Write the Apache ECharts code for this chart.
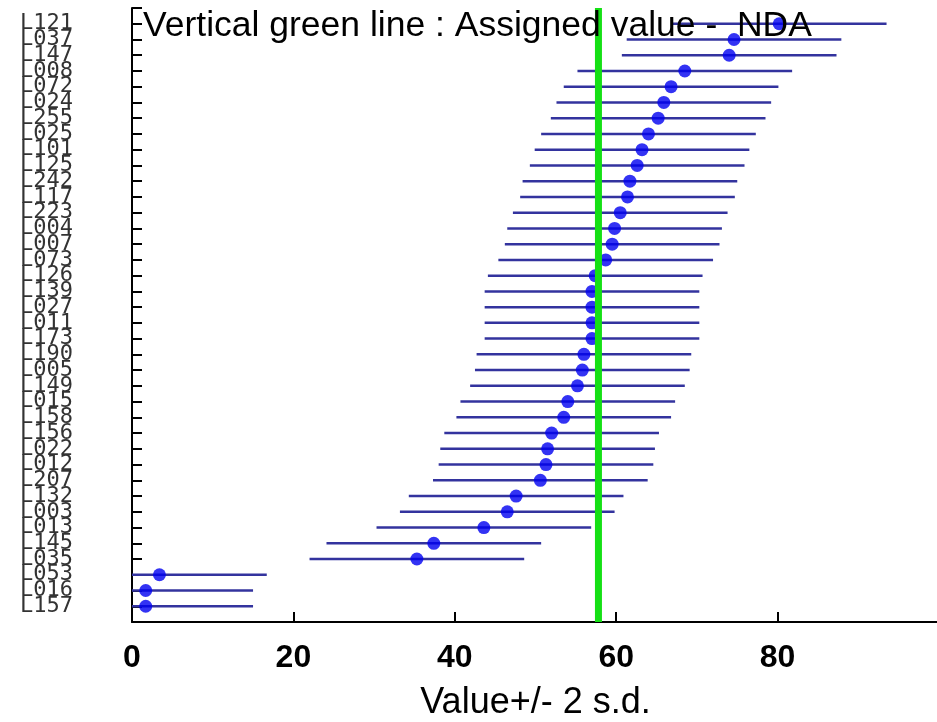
<!DOCTYPE html>
<html>
<head>
<meta charset="utf-8">
<script src="https://cdn.jsdelivr.net/npm/echarts@6/dist/echarts.min.js"></script>
<style>
html,body{margin:0;padding:0;background:#fff;}
#chart{width:937px;height:722px;}
</style>
</head>
<body>
<div id="chart"></div>
<script>
// Labs, top to bottom as shown
const labels = ['L121','L037','L147','L008','L072','L024','L255','L025','L101','L125',
  'L242','L117','L223','L004','L007','L073','L126','L139','L027','L011',
  'L173','L190','L005','L149','L015','L158','L156','L022','L012','L207',
  'L132','L003','L013','L145','L035','L053','L016','L157'];
// Reported values, same order
const values = [80.2,74.6,74.0,68.5,66.8,65.9,65.2,64.0,63.2,62.6,
  61.7,61.4,60.5,59.8,59.5,58.7,57.4,57.0,57.0,57.0,
  57.0,56.0,55.8,55.2,54.0,53.5,52.0,51.5,51.3,50.6,
  47.6,46.5,43.6,37.4,35.3,3.4,1.7,1.7];
// Half-width of the bars (2 s.d.)
const twoSd = 13.3;
// Assigned value (vertical green line)
const assigned = 57.8;
const xTicks = [0,20,40,60,80];
const titleText = 'Vertical green line : Assigned value -  NDA';
const xName = 'Value+/- 2 s.d.';

const n = labels.length;
const rowY = labels.map((_, i) => n - i);
const labelByY = {};
labels.forEach((l, i) => { labelByY[rowY[i]] = l; });

const barData = values.map((v, i) => [v - twoSd, v + twoSd, rowY[i]]);
const pointData = values.map((v, i) => [v, rowY[i]]);

const chart = echarts.init(document.getElementById('chart'));
chart.setOption({
  animation: false,
  backgroundColor: '#fff',
  title: {
    text: titleText,
    left: 138, top: 3,
    textStyle: {fontFamily: 'Liberation Sans', fontSize: 35.5, fontWeight: 'normal', color: '#000'}
  },
  grid: {left: 132, top: 8, width: 807, height: 614, containLabel: false, outerBoundsMode: 'none'},
  xAxis: {
    type: 'value', min: 0, max: 100, interval: 20,
    axisLine: {show: true, lineStyle: {color: '#000', width: 2}},
    axisTick: {show: true, inside: true, length: 10, customValues: xTicks, lineStyle: {color: '#000', width: 2}},
    splitLine: {show: false},
    axisLabel: {
      margin: 20, fontFamily: 'Liberation Sans', fontSize: 32, fontWeight: 'bold', color: '#000',
      customValues: xTicks,
      formatter: v => String(v)
    },
    name: xName, nameLocation: 'middle', nameGap: 63,
    nameTextStyle: {fontFamily: 'Liberation Sans', fontSize: 36, color: '#000'}
  },
  yAxis: {
    type: 'value', min: 0, max: n + 1, interval: 1,
    axisLine: {show: true, lineStyle: {color: '#000', width: 2}},
    axisTick: {show: true, inside: true, length: 10, lineStyle: {color: '#000', width: 2}},
    splitLine: {show: false},
    axisLabel: {
      margin: 59, fontFamily: 'DejaVu Sans Mono', fontSize: 22, color: '#333',
      padding: [8, 0, 0, 0],
      formatter: v => labelByY[v] || ''
    }
  },
  series: [
    {
      type: 'custom',
      clip: true,
      data: barData,
      renderItem: function (params, api) {
        const a = api.coord([api.value(0), api.value(2)]);
        const b = api.coord([api.value(1), api.value(2)]);
        const cs = params.coordSys;
        const x1 = Math.max(a[0], cs.x), x2 = Math.min(b[0], cs.x + cs.width);
        return {type: 'line', shape: {x1: x1, y1: a[1], x2: x2, y2: b[1]},
          style: {stroke: '#33339e', lineWidth: 2.5}};
      },
      z: 2
    },
    {
      type: 'scatter',
      data: pointData,
      symbol: 'circle', symbolSize: 13,
      itemStyle: {color: '#0000f0'},
      z: 3
    },
    {
      type: 'line',
      data: [[assigned, 0], [assigned, n + 1]],
      symbol: 'none',
      lineStyle: {color: '#15e015', width: 7},
      z: 4
    }
  ]
});
</script>
</body>
</html>
